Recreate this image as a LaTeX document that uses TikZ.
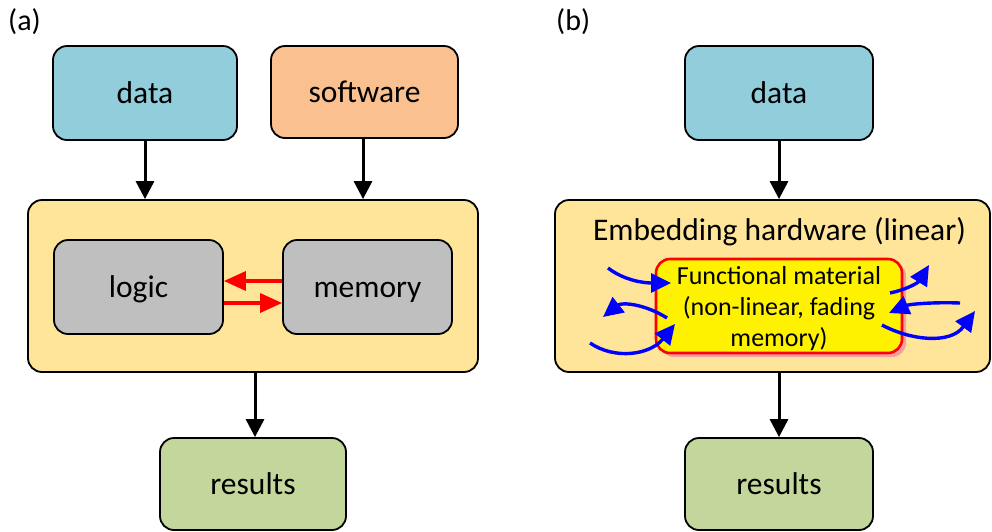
\documentclass[tikz,border=0pt]{standalone}
\usepackage{fontspec}
\setmainfont{Carlito}
\usetikzlibrary{arrows.meta,calc}
\definecolor{cdata}{RGB}{146,205,220}
\definecolor{csoft}{RGB}{250,192,144}
\definecolor{cbig}{RGB}{254,229,153}
\definecolor{cgray}{RGB}{191,191,191}
\definecolor{cres}{RGB}{195,214,155}
\definecolor{cshadow}{RGB}{245,160,160}
\tikzset{
  box/.style={draw=black, line width=1.8pt, rounded corners=14pt, inner sep=0pt,
    font=\fontsize{31.5}{36}\selectfont, text height=24pt, text depth=4pt},
  flow/.style={line width=3pt, -{Triangle[length=18pt,width=18pt]}},
  redarr/.style={red, line width=3.4pt, -{Triangle[length=22pt,width=19pt]}},
  bluearr/.style={blue, line width=3.4pt, -{Triangle[length=20pt,width=19pt]}},
  lbl/.style={font=\fontsize{30}{34}\selectfont, anchor=west, inner sep=0pt}
}
\begin{document}
\begin{tikzpicture}[x=1pt,y=-1pt]
\useasboundingbox (0,0) rectangle (992,531);
% labels
\node[lbl] (la) at (8,22) {(a)};
\node[lbl] (lb) at (556,22) {(b)};
% (a)
\node[box, fill=cdata, minimum width=184pt, minimum height=94pt] (dataA) at (145,93) {data};
\node[box, fill=csoft, minimum width=187pt, minimum height=92pt] (soft) at (364.5,92) {software};
\node[box, fill=cbig, minimum width=450pt, minimum height=172pt] (bigA) at (253,286) {};
\node[box, fill=cgray, minimum width=169pt, minimum height=94pt] (logic) at (138.5,287) {logic};
\node[box, fill=cgray, minimum width=169pt, minimum height=94pt] (mem) at (367.5,287) {memory};
\node[box, fill=cres, minimum width=186pt, minimum height=92pt] (resA) at (253,484) {results};
\draw[flow] (dataA.south) -- (dataA.south |- bigA.north);
\draw[flow] ([xshift=-1.5pt]soft.south) -- ([xshift=-1.5pt]soft.south |- bigA.north);
\draw[flow] ([xshift=2pt]bigA.south) -- ([xshift=2pt]bigA.south |- resA.north);
\draw[redarr] ($(mem.west)+(0,-6)$) -- ($(logic.east)+(0,-6)$);
\draw[redarr] ($(logic.east)+(0,16)$) -- ($(mem.west)+(0,16)$);
% (b)
\node[box, fill=cdata, minimum width=188pt, minimum height=94pt] (dataB) at (779,93) {data};
\node[box, fill=cbig, minimum width=435pt, minimum height=172pt] (bigB) at (772.5,286) {};
\node[font=\fontsize{31.5}{36}\selectfont, inner sep=0pt, text height=24pt, text depth=4pt] (title) at (779.5,230) {Embedding hardware (linear)};
\fill[cshadow, rounded corners=14pt] (660,262) rectangle (906,357);
\node[draw=red, line width=2.6pt, fill=yellow, rounded corners=14pt, inner sep=0pt,
  minimum width=246pt, minimum height=94pt] (func) at (779,306) {};
\node[align=center, inner sep=0pt, font=\fontsize{26}{31}\selectfont] (functext) at ($(func.center)+(0,3)$) {Functional material\\(non-linear, fading\\memory)};
\node[box, fill=cres, minimum width=188pt, minimum height=92pt] (resB) at (779,484) {results};
\draw[flow] (dataB.south) -- (dataB.south |- bigB.north);
\draw[flow] (bigB.south -| resB.north) -- (resB.north);
% blue arrows
\coordinate (b1s) at (608,268); \coordinate (b1e) at (671,283);
\coordinate (b2s) at (667,318); \coordinate (b2e) at (603,317);
\coordinate (b3s) at (590,343); \coordinate (b3e) at (675,324);
\coordinate (b4s) at (890,293); \coordinate (b4e) at (929,265);
\coordinate (b5s) at (960,303); \coordinate (b5e) at (889,313);
\coordinate (b6s) at (882,325); \coordinate (b6e) at (975,311);
\draw[bluearr] (b1s) .. controls (625,281) and (645,283) .. (b1e);
\draw[bluearr] (b2s) .. controls (645,304) and (622,302) .. (b2e);
\draw[bluearr] (b3s) .. controls (615,360) and (650,355) .. (b3e);
\draw[bluearr] (b4s) .. controls (905,290) and (918,283) .. (b4e);
\draw[bluearr] (b5s) .. controls (935,302) and (910,304) .. (b5e);
\draw[bluearr] (b6s) .. controls (910,340) and (950,345) .. (b6e);
\end{tikzpicture}
\end{document}
